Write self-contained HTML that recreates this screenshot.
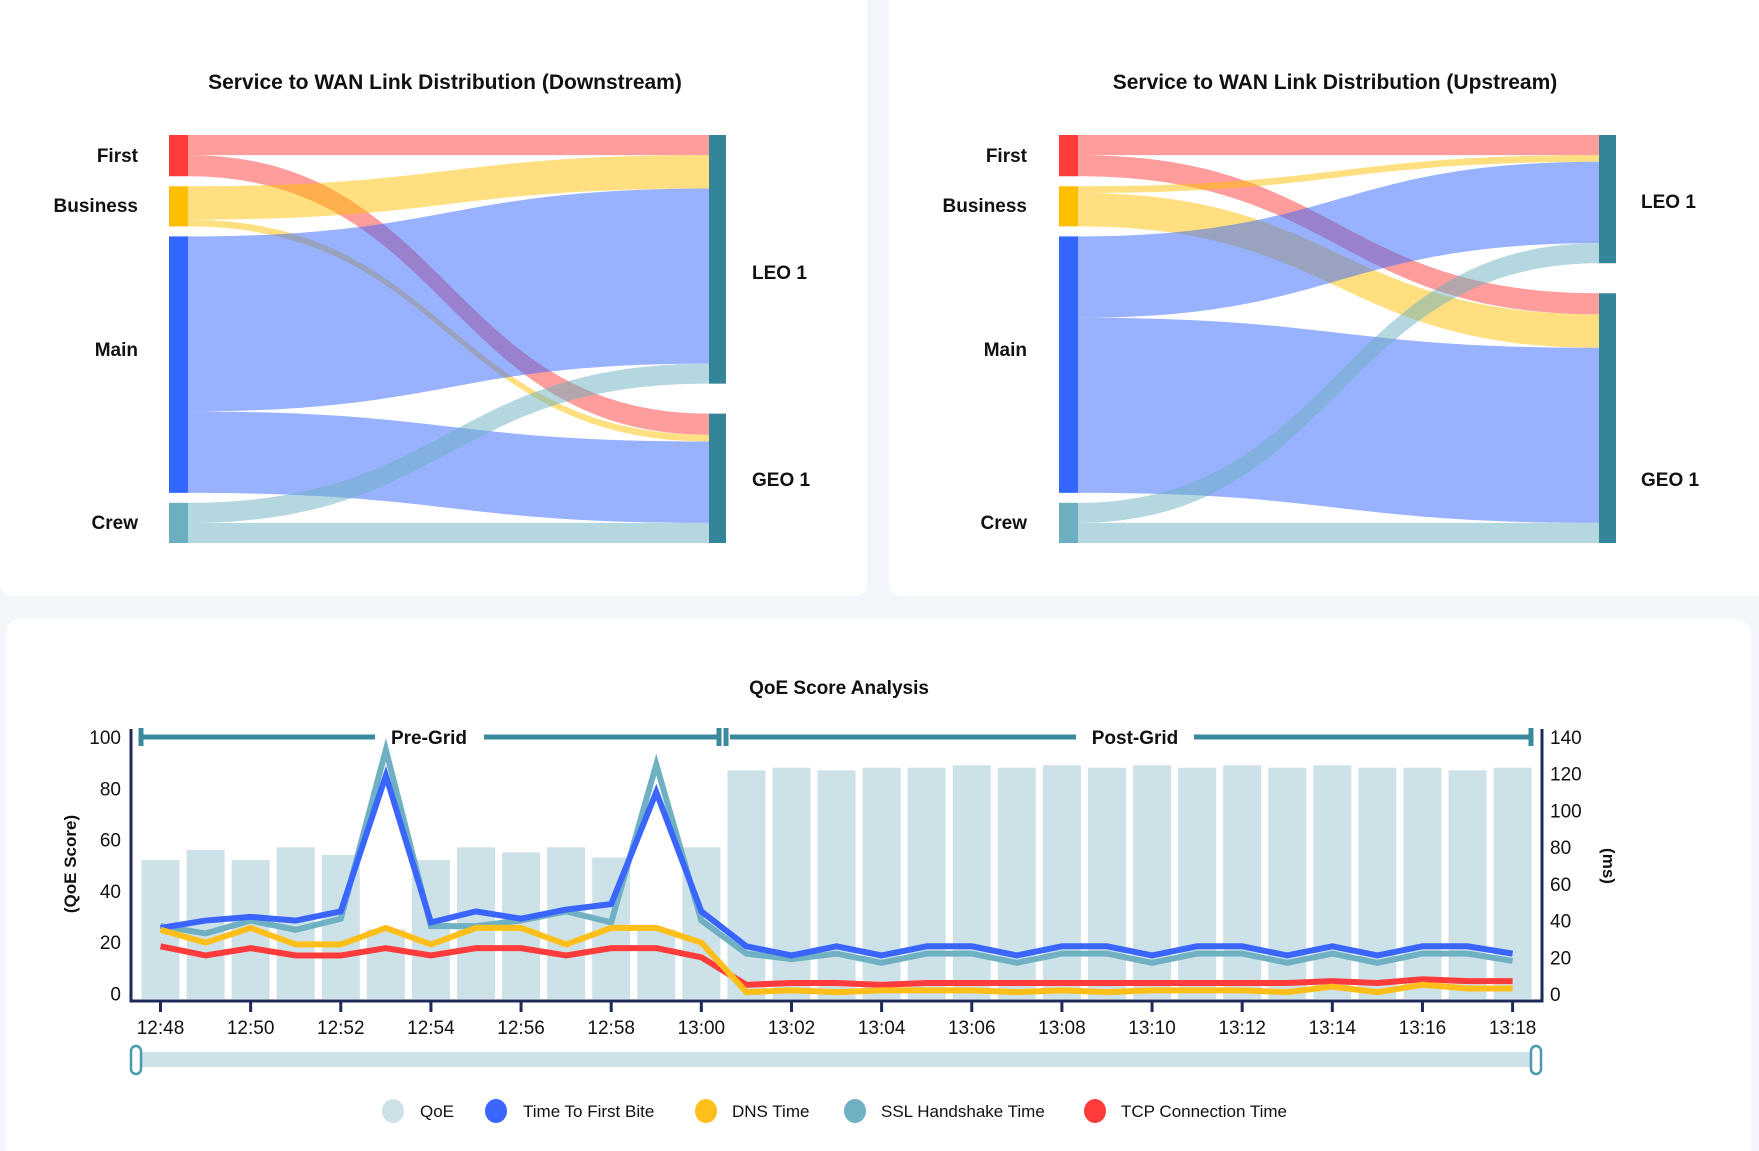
<!DOCTYPE html>
<html><head><meta charset="utf-8"><style>
body{margin:0;width:1759px;height:1151px;background:#f3f6fb;overflow:hidden;font-family:"Liberation Sans",sans-serif;}
svg{position:absolute;left:0;top:0}
text{font-family:"Liberation Sans",sans-serif;fill:#111}
</style></head><body>
<svg id="s" width="1759" height="1151">
<rect x="0" y="-20" width="867" height="616" rx="12" fill="#fff"/>
<rect x="889" y="-20" width="880" height="616" rx="12" fill="#fff"/>
<rect x="6" y="619" width="1745" height="560" rx="14" fill="#fff"/>
<text x="445" y="89" text-anchor="middle" font-size="21" font-weight="bold">Service to WAN Link Distribution (Downstream)</text>
<text x="1335" y="89" text-anchor="middle" font-size="21" font-weight="bold">Service to WAN Link Distribution (Upstream)</text>
<g id="sk"></g>
<text x="839" y="694" text-anchor="middle" font-size="19" font-weight="bold">QoE Score Analysis</text>
<g id="ch"></g>
</svg>
<script>
// Sankey data
const sources=['First','Business','Main','Crew'];
const targets=['LEO 1','GEO 1'];
const downLeo=[18,30,157,18];
const downGeo=[19,6,73,18];
const upLeo=[18,6,73,18];
const upGeo=[19,30,157,18];
// QoE chart data
const times=['12:48','12:49','12:50','12:51','12:52','12:53','12:54','12:55','12:56','12:57','12:58','12:59','13:00','13:01','13:02','13:03','13:04','13:05','13:06','13:07','13:08','13:09','13:10','13:11','13:12','13:13','13:14','13:15','13:16','13:17','13:18'];
const qoe=[52,56,52,57,54,25,52,57,55,57,53,25,57,87,88,87,88,88,89,88,89,88,89,88,89,88,89,88,88,87,88];
const ttfb=[36,40,42,40,45,119,39,45,41,46,49,110,45,26,21,26,21,26,26,21,26,26,21,26,26,21,26,21,26,26,22];
const ssl=[37,33,40,35,41,133,37,37,40,45,39,125,40,22,19,22,17,22,22,17,22,22,17,22,22,17,22,17,22,22,18];
const dns=[35,28,36,27,27,36,27,36,36,27,36,36,28,1,2,1,2,2,2,1,2,1,2,2,2,1,4,1,5,3,3];
const tcp=[26,21,25,21,21,25,21,25,25,21,25,25,20,5,6,6,5,6,6,6,6,6,6,6,6,6,7,6,8,7,7];
const leftTicks=[0,20,40,60,80,100];
const rightTicks=[0,20,40,60,80,100,120,140];

const NS='http://www.w3.org/2000/svg';
function mk(parent,tag,attrs,txt){const e=document.createElementNS(NS,tag);for(const k in attrs)e.setAttribute(k,attrs[k]);if(txt!==undefined)e.textContent=txt;parent.appendChild(e);return e;}
const nodeCol=['#ff3b3b','#ffbf00','#3366ff','#6bafc0'];
const sk=document.getElementById('sk');
function sankey(ox,leo,geo,labX,rlabX,rlabY,name){
  const top=135,bot=543,pad=10,nodeW=19,rx=ox+540,rW=17;
  const tot=leo.reduce((a,b)=>a+b,0)+geo.reduce((a,b)=>a+b,0);
  const k=(bot-top-pad*3)/tot;
  let y=top;const ly=[];
  sources.forEach((s,i)=>{ly.push(y);y+=(leo[i]+geo[i])*k+pad;});
  const leoH=leo.reduce((a,b)=>a+b,0)*k, geoH=geo.reduce((a,b)=>a+b,0)*k;
  const rTop=[top,bot-geoH];
  const rCur=[rTop[0],rTop[1]];
  const xm0=ox+nodeW, xm1=rx, mid=(xm0+xm1)/2;
  sources.forEach((s,i)=>{
    let sy=ly[i];
    [leo,geo].forEach((arr,t)=>{
      const h=arr[i]*k;const ty=rCur[t];
      const p=mk(sk,'path',{d:`M${xm0},${sy}C${mid},${sy} ${mid},${ty} ${xm1},${ty}L${xm1},${ty+h}C${mid},${ty+h} ${mid},${sy+h} ${xm0},${sy+h}Z`,fill:nodeCol[i],'fill-opacity':0.5});
      
      
      sy+=h;rCur[t]+=h;
    });
  });
  sources.forEach((s,i)=>{
    const r=mk(sk,'rect',{x:ox,y:ly[i],width:nodeW,height:(leo[i]+geo[i])*k,fill:nodeCol[i]});
    
    
  });
  const lab=[155,205,349,522];
  sources.forEach((s,i)=>{
    const t=mk(sk,'text',{x:labX,y:lab[i]+7,'text-anchor':'end','font-size':19,'font-weight':'bold'},s);
    
    
  });
  [leoH,geoH].forEach((h,t)=>{
    const r=mk(sk,'rect',{x:rx,y:rTop[t],width:rW,height:h,fill:'#348599'});
    
    
    const tx=mk(sk,'text',{x:rlabX,y:rlabY[t]+7,'font-size':19,'font-weight':'bold'},targets[t]);
    
    
  });
}
sankey(169,downLeo,downGeo,138,752,[272,479],'downstream');
sankey(1059,upLeo,upGeo,1027,1641,[201,479],'upstream');

// chart
const ch=document.getElementById('ch');
const X0=160.5,DX=45.07,BASE=1001;
const xs=i=>X0+i*DX;
const yL=v=>993.5-v*2.565;
const yR=v=>994-v*257/140;
qoe.forEach((q,i)=>{
  const b=mk(ch,'rect',{x:xs(i)-19,y:yL(q),width:38,height:999-yL(q),fill:'#cde2e8'});
  
  
});
function line(arr,col,name){
  const p=mk(ch,'polyline',{points:arr.map((v,i)=>xs(i)+','+yR(v)).join(' '),fill:'none',stroke:col,'stroke-width':6,'stroke-linejoin':'miter'});
  
  
}
line(ssl,'#6fb0c2','ssl-handshake-line');
line(ttfb,'#3a66ff','ttfb-line');
line(tcp,'#ff3b3b','tcp-connection-line');
line(dns,'#ffbf1a','dns-time-line');
// axes
const ax=mk(ch,'path',{d:'M131,729V1001H1542V729',fill:'none',stroke:'#1e2a5a','stroke-width':3});


leftTicks.forEach(v=>{
  const t=mk(ch,'text',{x:121,y:yL(v)+7,'text-anchor':'end','font-size':19},String(v));
  
  
});
rightTicks.forEach(v=>{
  const t=mk(ch,'text',{x:1550,y:yR(v)+7,'font-size':19},String(v));
  
  
});
times.forEach((tm,i)=>{
  if(i%2)return;
  const l=mk(ch,'line',{x1:xs(i),x2:xs(i),y1:1001,y2:1012,stroke:'#1e2a5a','stroke-width':3});
  
  
  const t=mk(ch,'text',{x:xs(i),y:1034,'text-anchor':'middle','font-size':19},tm);
  
  
});
</script>
<svg width="1759" height="1151" style="pointer-events:none">
<text transform="translate(76,864) rotate(-90)" text-anchor="middle" font-size="17" font-weight="bold">(QoE Score)</text>
<text transform="translate(1603,866) rotate(90)" text-anchor="middle" font-size="17" font-weight="bold">(ms)</text>
<g stroke="#3a8a9c" stroke-width="5" fill="none">
<path d="M141,737H375M484,737H719M141,728V746M719,728V746M726,728V746"/>
<path d="M730,737H1076M1194,737H1531M1531,728V746"/>
</g>
<text x="429" y="744" text-anchor="middle" font-size="19" font-weight="bold">Pre-Grid</text>
<text x="1135" y="744" text-anchor="middle" font-size="19" font-weight="bold">Post-Grid</text>
<rect x="136" y="1052" width="1400" height="15" fill="#cde2e8"/>
<rect x="131" y="1046" width="10" height="28" rx="5" fill="#fff" stroke="#4a9aae" stroke-width="2.5"/>
<rect x="1531" y="1046" width="10" height="28" rx="5" fill="#fff" stroke="#4a9aae" stroke-width="2.5"/>
<g font-size="17">
<ellipse cx="393" cy="1111" rx="11" ry="12" fill="#cde2e8"/>
<text x="420" y="1117">QoE</text>
<ellipse cx="496" cy="1111" rx="11" ry="12" fill="#3a66ff"/>
<text x="523" y="1117">Time To First Bite</text>
<ellipse cx="706" cy="1111" rx="11" ry="12" fill="#ffbf1a"/>
<text x="732" y="1117">DNS Time</text>
<ellipse cx="855" cy="1111" rx="11" ry="12" fill="#6fb0c2"/>
<text x="881" y="1117">SSL Handshake Time</text>
<ellipse cx="1095" cy="1111" rx="11" ry="12" fill="#ff3b3b"/>
<text x="1121" y="1117">TCP Connection Time</text>
</g>
</svg>
</body></html>
